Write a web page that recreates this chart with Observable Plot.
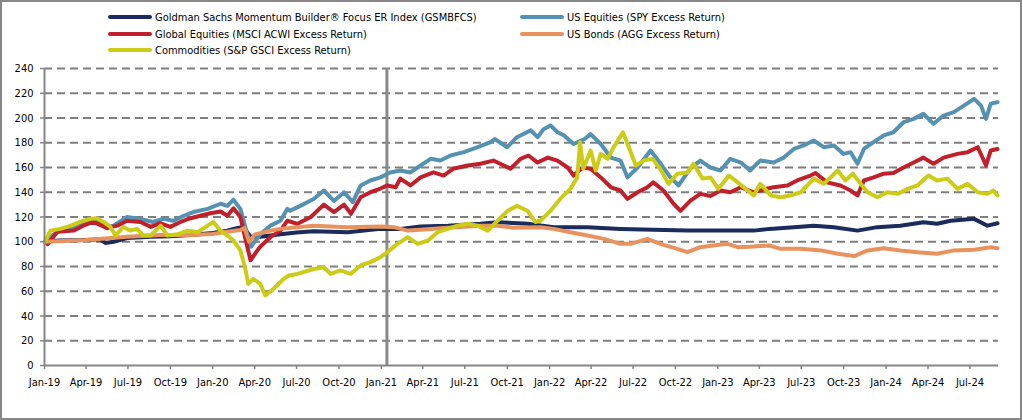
<!DOCTYPE html>
<html>
<head>
<meta charset="utf-8">
<script src="https://cdn.jsdelivr.net/npm/d3@7"></script>
<script src="https://cdn.jsdelivr.net/npm/@observablehq/plot@0.6"></script>
<style>
  body { margin: 0; background: #fff; }
  #wrap { position: relative; width: 1022px; height: 420px; background: #fff; overflow: hidden;
          font-family: "DejaVu Sans Condensed", "DejaVu Sans", sans-serif; font-stretch: condensed; color: #000; }
  #legend { position: absolute; left: 0; top: 0; width: 1022px; height: 60px; }
  .item { position: absolute; height: 16px; line-height: 16px; font-size: 11px; white-space: nowrap; }
  .sw { display: inline-block; width: 44px; height: 4px; border-radius: 2px; vertical-align: middle; margin-right: 3px; position: relative; top: -1px; }
  #chart { position: absolute; left: 0; top: 60px; }
  #border { position: absolute; left: 0; top: 0; width: 1022px; height: 420px; box-sizing: border-box; border: 2px solid #878787; pointer-events: none; }
</style>
</head>
<body>
<div id="wrap">
  <div id="legend"></div>
  <div id="chart"></div>
  <div id="border"></div>
</div>
<script>
const seriesNames = [
  "Goldman Sachs Momentum Builder® Focus ER Index (GSMBFCS)",
  "US Equities (SPY Excess Return)",
  "Global Equities (MSCI ACWI Excess Return)",
  "US Bonds (AGG Excess Return)",
  "Commodities (S&P GSCI Excess Return)"
];
const seriesColors = ["#1a2b5c", "#5592b2", "#c0202b", "#e8935e", "#cccc16"];

const gsmbfcs = [["2019-01-02",100],["2019-02-01",101],["2019-04-01",101.5],["2019-05-02",102],["2019-05-13",99],["2019-05-31",100],["2019-06-29",103],["2019-08-20",104],["2019-10-01",104.5],["2019-11-14",105.5],["2020-01-01",107],["2020-02-01",109],["2020-02-22",111],["2020-03-08",112],["2020-03-23",104],["2020-04-13",104],["2020-05-27",106],["2020-07-01",107.5],["2020-08-07",108.5],["2020-10-20",107.7],["2020-12-30",110.4],["2021-02-11",110.4],["2021-03-27",112.3],["2021-05-25",113],["2021-08-04",114.5],["2021-09-10",115.8],["2021-11-14",114.5],["2022-01-10",111.8],["2022-03-24",111.8],["2022-06-04",110.4],["2022-08-14",109.6],["2022-10-27",109],["2023-01-07",109],["2023-03-20",109],["2023-04-23",110.4],["2023-06-15",111.8],["2023-07-28",113],["2023-09-10",111.8],["2023-10-31",109],["2023-12-13",111.8],["2024-02-01",113],["2024-03-22",115.8],["2024-04-21",114.5],["2024-05-20",117],["2024-07-10",118.5],["2024-08-08",113],["2024-08-30",115]];

const spy = [["2019-01-02",100],["2019-01-14",104],["2019-01-29",108],["2019-03-05",111],["2019-03-26",114],["2019-04-17",118],["2019-05-17",112],["2019-05-31",113],["2019-06-29",120],["2019-07-28",118.5],["2019-08-24",116],["2019-09-15",118.5],["2019-10-08",117],["2019-10-30",121],["2019-11-20",124],["2019-12-21",126.6],["2020-01-18",130.7],["2020-02-02",129],["2020-02-15",134],["2020-03-01",126.6],["2020-03-16",106],["2020-03-24",96],["2020-04-13",106],["2020-05-05",113],["2020-05-27",117],["2020-06-11",126.6],["2020-06-17",125],["2020-07-09",129],["2020-08-07",134.6],["2020-08-29",141.4],["2020-09-20",133],["2020-10-12",140],["2020-10-31",132],["2020-11-17",145.5],["2020-12-08",149.5],["2020-12-30",152],["2021-01-20",156],["2021-02-11",157.6],["2021-03-05",156],["2021-03-27",161.6],["2021-04-18",167],["2021-05-09",165.6],["2021-05-31",169.7],["2021-06-29",172.4],["2021-07-29",176.4],["2021-08-26",180.5],["2021-09-04",183],["2021-10-01",176.4],["2021-10-22",184.5],["2021-11-21",190],["2021-12-06",184.5],["2021-12-19",191],["2022-01-03",194],["2022-01-18",188.5],["2022-02-01",186],["2022-02-22",179],["2022-03-18",183],["2022-03-31",187],["2022-04-22",179],["2022-05-14",168],["2022-06-04",165.6],["2022-06-19",152],["2022-07-11",160],["2022-08-08",173.7],["2022-08-30",163],["2022-09-20",152],["2022-10-08",145.5],["2022-11-02",159],["2022-11-24",165.6],["2022-12-16",160],["2023-01-07",157.6],["2023-01-28",167],["2023-02-20",164],["2023-03-12",157.6],["2023-04-03",165.6],["2023-05-02",164],["2023-05-24",168],["2023-06-15",175],["2023-07-06",177.8],["2023-07-28",181.8],["2023-08-19",176.4],["2023-09-10",177.8],["2023-10-01",171],["2023-10-16",172.4],["2023-10-31",163],["2023-11-14",175],["2023-12-05",180.5],["2023-12-27",186],["2024-01-17",188.5],["2024-02-08",196.6],["2024-03-01",199.3],["2024-03-22",203.4],["2024-04-13",195.3],["2024-05-05",202],["2024-05-27",204.7],["2024-06-18",210],["2024-07-10",215.5],["2024-07-25",210],["2024-08-05",199.3],["2024-08-15",211.5],["2024-08-30",212.8]];

const acwi = [["2019-01-02",100],["2019-01-08",98],["2019-01-29",108],["2019-03-05",109],["2019-03-26",113],["2019-04-17",116],["2019-05-17",111],["2019-06-08",113],["2019-06-29",117],["2019-07-28",116],["2019-08-20",112],["2019-09-09",115],["2019-10-01",112],["2019-10-23",116],["2019-11-14",119],["2019-12-05",121],["2019-12-27",123],["2020-01-18",124.5],["2020-02-02",121],["2020-02-15",127],["2020-03-01",120],["2020-03-16",96],["2020-03-23",85],["2020-04-07",93],["2020-04-13",96],["2020-05-05",103.7],["2020-05-27",109],["2020-06-11",117],["2020-07-03",114.5],["2020-08-01",120],["2020-08-29",130],["2020-09-20",124],["2020-10-12",130],["2020-10-27",122.6],["2020-11-17",136],["2020-12-08",140],["2020-12-30",143],["2021-01-14",145.5],["2021-02-01",144],["2021-02-11",151],["2021-03-05",145.5],["2021-03-27",152],["2021-04-24",156],["2021-05-16",153.5],["2021-06-06",159],["2021-07-07",161.6],["2021-08-04",163],["2021-09-01",165.6],["2021-10-08",159],["2021-10-30",167],["2021-11-16",169.7],["2021-12-06",164],["2021-12-28",168],["2022-01-18",165.6],["2022-02-09",160],["2022-02-22",153.5],["2022-03-14",160],["2022-03-31",159],["2022-04-22",152],["2022-05-14",144],["2022-06-04",141.4],["2022-06-19",134.6],["2022-07-11",140],["2022-08-01",144],["2022-08-14",148],["2022-09-05",141.4],["2022-09-27",130.7],["2022-10-12",125],["2022-11-02",133],["2022-11-24",138.7],["2022-12-16",137],["2023-01-07",141.4],["2023-01-28",140],["2023-02-20",144],["2023-03-20",140],["2023-04-19",143],["2023-05-02",144],["2023-06-01",145.5],["2023-06-22",149.5],["2023-07-21",153.5],["2023-08-01",155.6],["2023-08-26",148],["2023-09-24",145.5],["2023-10-16",141.4],["2023-10-31",137.4],["2023-11-14",149.5],["2023-12-05",152],["2023-12-27",155],["2024-01-17",155.6],["2024-02-08",160],["2024-03-01",164],["2024-03-22",168],["2024-04-13",163],["2024-05-05",168],["2024-06-04",171],["2024-06-26",172.4],["2024-07-18",176.4],["2024-08-05",161.6],["2024-08-15",173.7],["2024-08-30",175]];

const agg = [["2019-01-02",100],["2019-04-01",101.5],["2019-06-29",104],["2019-09-09",105.5],["2019-11-14",105.5],["2020-01-01",106.3],["2020-02-01",108],["2020-03-01",109.5],["2020-03-10",111],["2020-03-20",100],["2020-04-02",106],["2020-05-05",109],["2020-05-27",110.4],["2020-08-07",113],["2020-10-20",111.8],["2020-12-30",112.3],["2021-01-28",111.8],["2021-02-27",109],["2021-03-27",109.6],["2021-05-25",111.3],["2021-08-04",113],["2021-09-10",113],["2021-10-14",111.3],["2021-12-12",111.8],["2022-01-10",110.4],["2022-02-15",107.7],["2022-03-24",105],["2022-04-29",102.3],["2022-06-04",98.3],["2022-06-26",98.3],["2022-08-01",102.3],["2022-08-29",98.3],["2022-10-05",94.3],["2022-10-27",91.6],["2022-11-24",95.6],["2022-12-22",97],["2023-01-22",98.3],["2023-02-13",95.6],["2023-03-12",96],["2023-04-23",97],["2023-05-17",94.3],["2023-06-30",94.3],["2023-08-13",93],["2023-09-18",90.3],["2023-10-24",88.4],["2023-11-22",93],["2023-12-27",94.8],["2024-02-01",93],["2024-03-09",91.6],["2024-04-21",90.3],["2024-05-27",93],["2024-07-10",93.5],["2024-08-15",95.6],["2024-08-30",94.8]];

const gsci = [["2019-01-02",100],["2019-01-14",109],["2019-02-04",110.4],["2019-02-27",113],["2019-03-19",116],["2019-04-10",118.5],["2019-04-25",119],["2019-05-09",116],["2019-05-24",112],["2019-06-04",105],["2019-06-21",112],["2019-07-06",109],["2019-07-21",110.4],["2019-08-04",105],["2019-08-19",105],["2019-09-10",113],["2019-09-25",105],["2019-10-17",106],["2019-11-08",109],["2019-11-29",107.7],["2019-12-21",113],["2020-01-02",116],["2020-01-18",109],["2020-02-02",105],["2020-02-15",101],["2020-03-01",93],["2020-03-11",79.4],["2020-03-18",66],["2020-03-29",70],["2020-04-13",66],["2020-04-24",56.6],["2020-05-12",62],["2020-06-03",70],["2020-06-14",72.7],["2020-07-03",74],["2020-08-07",78],["2020-08-29",79.4],["2020-09-13",74],["2020-10-04",76.8],["2020-10-26",74],["2020-11-17",80.8],["2020-12-08",83.5],["2020-12-30",87.5],["2021-01-14",91.6],["2021-02-05",98.3],["2021-02-27",103.7],["2021-03-21",98.3],["2021-04-12",101],["2021-05-03",107.7],["2021-05-25",110.4],["2021-06-15",113],["2021-07-07",114.5],["2021-07-29",113],["2021-08-20",109],["2021-09-10",117],["2021-10-02",125],["2021-10-22",129],["2021-11-14",125],["2021-12-01",116],["2021-12-12",117],["2022-01-03",125],["2022-01-24",134.6],["2022-02-15",142.7],["2022-03-02",152],["2022-03-08",180.5],["2022-03-15",159],["2022-03-31",173.7],["2022-04-11",157.6],["2022-04-22",171],["2022-05-07",167],["2022-05-20",176.4],["2022-06-09",188.5],["2022-06-22",176.4],["2022-07-07",161.6],["2022-07-24",165.6],["2022-08-12",167],["2022-08-29",159],["2022-09-16",146.8],["2022-10-05",155],["2022-10-27",156],["2022-11-09",163],["2022-11-29",151],["2022-12-16",152],["2023-01-02",142.7],["2023-01-25",153.5],["2023-02-13",148],["2023-03-07",141.4],["2023-03-20",137.4],["2023-04-03",146.8],["2023-04-26",137.4],["2023-05-17",136],["2023-06-08",137.4],["2023-06-30",140],["2023-07-28",151],["2023-08-19",146.8],["2023-09-18",157.6],["2023-10-05",149.5],["2023-10-21",155],["2023-11-07",146.8],["2023-11-22",140],["2023-12-13",136],["2024-01-04",140],["2024-01-26",138.7],["2024-02-17",142.7],["2024-03-09",145.5],["2024-04-02",153.5],["2024-04-21",149.5],["2024-05-13",151],["2024-06-04",142.7],["2024-06-26",146.8],["2024-07-18",140],["2024-08-08",138.7],["2024-08-21",141.4],["2024-08-30",137.4]];

const yTicks = [0, 20, 40, 60, 80, 100, 120, 140, 160, 180, 200, 220, 240];
const xTicks = ["2019-01-01","2019-04-01","2019-07-01","2019-10-01","2020-01-01","2020-04-01","2020-07-01","2020-10-01","2021-01-01","2021-04-01","2021-07-01","2021-10-01","2022-01-01","2022-04-01","2022-07-01","2022-10-01","2023-01-01","2023-04-01","2023-07-01","2023-10-01","2024-01-01","2024-04-01","2024-07-01"];
const xDomain = ["2019-01-01", "2024-09-01"];
const markerDate = "2021-01-13";

const allSeries = [gsmbfcs, spy, acwi, agg, gsci];
const data = allSeries.flatMap((pts, i) => pts.map(([d, v]) => ({series: seriesNames[i], date: new Date(d), value: v})));

// Legend
const legendPos = [[108, 10], [520, 10], [108, 27], [520, 27], [108, 43]];
const legend = document.getElementById("legend");
seriesNames.forEach((name, i) => {
  const el = document.createElement("div");
  el.className = "item";
  el.style.left = legendPos[i][0] + "px";
  el.style.top = legendPos[i][1] + "px";
  const sw = document.createElement("span");
  sw.className = "sw";
  sw.style.background = seriesColors[i];
  el.appendChild(sw);
  el.appendChild(document.createTextNode(name));
  legend.appendChild(el);
});

const axisGray = "#868686";
const chart = Plot.plot({
  width: 1022,
  height: 360,
  marginLeft: 44,
  marginRight: 24,
  marginTop: 8,
  marginBottom: 55,
  x: {type: "utc", domain: xDomain.map(d => new Date(d))},
  y: {domain: [0, 240]},
  color: {domain: seriesNames, range: seriesColors},
  style: {fontFamily: "'DejaVu Sans Condensed', 'DejaVu Sans', sans-serif", fontSize: "11px", color: "#000", background: "#fff", overflow: "visible"},
  marks: [
    Plot.ruleY(yTicks.filter(t => t > 0), {stroke: "#7f7f7f", strokeWidth: 2, strokeDasharray: "8,5"}),
    Plot.ruleX([new Date(markerDate)], {stroke: "#8a8a8a", strokeWidth: 3}),
    Plot.line(data, {x: "date", y: "value", z: "series", stroke: "series", strokeWidth: 4, strokeLinejoin: "round", strokeLinecap: "round"}),
    Plot.ruleY([0], {stroke: axisGray, strokeWidth: 2}),
    Plot.ruleX([new Date(xDomain[0])], {stroke: axisGray, strokeWidth: 2}),
    Plot.axisY({ticks: yTicks, tickSize: 4, tickPadding: 7, stroke: axisGray, strokeWidth: 1.5, fill: "#000", label: null}),
    Plot.axisX({ticks: xTicks.map(d => new Date(d)), tickFormat: d3.utcFormat("%b-%y"), tickSize: 4, tickPadding: 9, stroke: axisGray, strokeWidth: 1.5, fill: "#000", label: null})
  ]
});
document.getElementById("chart").appendChild(chart);
</script>
</body>
</html>
